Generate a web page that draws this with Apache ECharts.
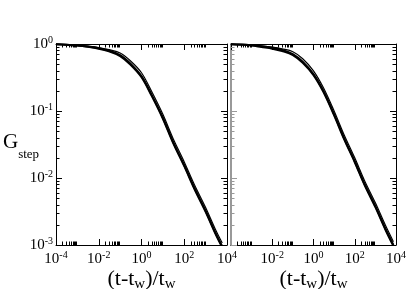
<!DOCTYPE html>
<html><head><meta charset="utf-8">
<script src="https://cdn.jsdelivr.net/npm/echarts@6/dist/echarts.min.js"></script>
<style>html,body{margin:0;padding:0;background:#fff}#c{width:415px;height:289px}</style>
</head><body><div id="c"></div>
<script>
// ---- data (x = (t-tw)/tw, G = G_step) ----
const xLeft  = [1e-4, 3e-4, 1e-3, 3e-3, 0.01, 0.03, 0.1, 0.3, 1, 3, 10, 30, 100, 300, 1000, 3000, 6000];
const gLeftA = [0.993, 0.977, 0.951, 0.916, 0.867, 0.798, 0.684, 0.513, 0.331, 0.174, 0.0794, 0.0347, 0.0155, 0.00708, 0.00324, 0.00148, 0.000955];
const gLeftB = [0.992, 0.975, 0.947, 0.908, 0.851, 0.776, 0.661, 0.495, 0.320, 0.168, 0.0767, 0.0335, 0.0150, 0.00684, 0.00313, 0.00143, 0.000922];
const gLeftC = [0.993, 0.977, 0.955, 0.927, 0.887, 0.822, 0.733, 0.562, 0.372, 0.195, 0.0891, 0.0389, 0.0174, 0.00794, 0.00363, 0.00166, 0.00107];

const xRight  = [1e-4, 3e-4, 1e-3, 3e-3, 0.01, 0.03, 0.1, 0.3, 1, 3, 10, 30, 100, 300, 1000, 3000, 7500];
const gRightA = [0.993, 0.982, 0.959, 0.929, 0.881, 0.817, 0.708, 0.543, 0.355, 0.200, 0.0891, 0.0398, 0.0178, 0.00813, 0.00380, 0.00178, 0.00100];
const gRightB = [0.990, 0.978, 0.952, 0.902, 0.851, 0.785, 0.684, 0.525, 0.343, 0.193, 0.0861, 0.0384, 0.0172, 0.00785, 0.00367, 0.00172, 0.000966];
const gRightC = [0.995, 0.984, 0.966, 0.942, 0.902, 0.847, 0.767, 0.603, 0.398, 0.224, 0.100, 0.0447, 0.0200, 0.00912, 0.00426, 0.00200, 0.00112];

// ---- ticks ----
const xTickValues = [1e-4, 1e-2, 1, 1e2, 1e4];
const xTickExps   = ['-4', '-2', '0', '2', '4'];
const yTickValues = [1e-3, 1e-2, 1e-1, 1];
const yTickExps   = ['-3', '-2', '-1', '0'];
const xMinorDecades = [1e-4, 1e-2, 1, 1e2];
const yMinorDecades = [1e-3, 1e-2, 1e-1];
const minorMultipliers = [2, 3, 4, 5, 6, 7, 8, 9];

const FONT = 'Liberation Serif';
const X_MIN = 1e-4, X_MAX = 1e4, Y_MIN = 1e-3, Y_MAX = 1;

function fmt(vals, exps) {
  return function (v) {
    const i = vals.findIndex(t => Math.abs(Math.log10(t) - Math.log10(v)) < 1e-6);
    return i < 0 ? '' : '{b|10}{s|' + exps[i] + '}';
  };
}
const richLab = {
  b: { fontFamily: FONT, fontSize: 15, color: '#000', lineHeight: 18 },
  s: { fontFamily: FONT, fontSize: 10, color: '#000', verticalAlign: 'top', lineHeight: 10 }
};
const titleRich = {
  a: { fontFamily: FONT, fontSize: 22, color: '#000', lineHeight: 26 },
  w: { fontFamily: FONT, fontSize: 15, color: '#000', verticalAlign: 'bottom', lineHeight: 15 }
};
const xTitle = '{a|(t-t}{w|w}{a|)/t}{w|w}';

const minorData = [];
xMinorDecades.forEach(d => minorMultipliers.forEach(m => minorData.push([d * m, 0.5, 0])));
yMinorDecades.forEach(d => minorMultipliers.forEach(m => minorData.push([1, d * m, 1])));

function seg(x1, y1, x2, y2, c) {
  return { type: 'line', shape: { x1, y1, x2, y2 }, style: { stroke: c, lineWidth: 1 } };
}
function minorRender(gridIdx) {
  return function (params, api) {
    const kind = api.value(2);
    const ch = [];
    if (kind === 0) {
      const v = api.value(0);
      const b = api.coord([v, Y_MIN]), t = api.coord([v, Y_MAX]);
      const x = Math.round(b[0]) + 0.5;
      ch.push(seg(x, b[1], x, b[1] - 3.5, '#000'), seg(x, t[1], x, t[1] + 3.5, '#000'));
    } else {
      const w = api.value(1);
      const l = api.coord([X_MIN, w]), r = api.coord([X_MAX, w]);
      const y = Math.round(l[1]) + 0.5;
      ch.push(seg(l[0], y, l[0] + 3.5, y, gridIdx === 1 ? '#999' : '#000'), seg(r[0], y, r[0] - 3.5, y, '#000'));
    }
    return { type: 'group', children: ch };
  };
}

function xAx(grid, pos, labels, hideMin) {
  return {
    type: 'log', logBase: 10, gridIndex: grid, position: pos, min: X_MIN, max: X_MAX, interval: 2,
    axisLine: { show: true, onZero: false, lineStyle: { color: '#000', width: 1 } },
    axisTick: { show: true, inside: true, length: 6, lineStyle: { color: '#000' } },
    minorTick: { show: false }, splitLine: { show: false },
    axisLabel: labels ? { show: true, margin: 5, formatter: fmt(xTickValues, xTickExps), rich: richLab, showMinLabel: !hideMin, showMaxLabel: true } : { show: false },
    name: labels ? xTitle : '', nameLocation: 'middle', nameGap: 21, nameMoveOverlap: false,
    nameTextStyle: { rich: titleRich }
  };
}
function yAx(grid, pos, labels, color, width) {
  return {
    type: 'log', logBase: 10, gridIndex: grid, position: pos, min: Y_MIN, max: Y_MAX, interval: 1,
    axisLine: { show: true, onZero: false, lineStyle: { color: color, width: width } },
    axisTick: { show: true, inside: true, length: 6, lineStyle: { color: color } },
    minorTick: { show: false }, splitLine: { show: false },
    axisLabel: labels ? { show: true, margin: 3, formatter: fmt(yTickValues, yTickExps), rich: richLab, showMinLabel: true, showMaxLabel: true } : { show: false }
  };
}
function lineSeries(xi, yi, xs, gs, w) {
  return {
    type: 'line', xAxisIndex: xi, yAxisIndex: yi, data: xs.map((x, i) => [x, gs[i]]),
    symbol: 'none', smooth: 0.35, clip: true, silent: true,
    lineStyle: { color: '#000', width: w }
  };
}

const chart = echarts.init(document.getElementById('c'), null, { renderer: 'canvas' });
chart.setOption({
  animation: false,
  backgroundColor: '#fff',
  grid: [
    { left: 56, top: 44, width: 171, height: 201, containLabel: false, outerBoundsMode: 'none' },
    { left: 231, top: 44, width: 165, height: 201, containLabel: false, outerBoundsMode: 'none' }
  ],
  xAxis: [xAx(0, 'bottom', true, false), xAx(0, 'top', false), xAx(1, 'bottom', true, true), xAx(1, 'top', false)],
  yAxis: [yAx(0, 'left', true, '#000', 1), yAx(0, 'right', false, '#000', 1), yAx(1, 'left', false, '#999', 2), yAx(1, 'right', false, '#000', 1)],
  graphic: [{
    type: 'text', left: 3, top: 132,
    style: { text: '{g|G}{s|step}', rich: {
      g: { fontFamily: FONT, fontSize: 21, color: '#000', lineHeight: 22 },
      s: { fontFamily: FONT, fontSize: 13, color: '#000', verticalAlign: 'bottom', lineHeight: 13, padding: [0, 0, -8, 0] }
    } }
  }],
  series: [
    lineSeries(0, 0, xLeft, gLeftA, 2),
    lineSeries(0, 0, xLeft, gLeftB, 2),
    lineSeries(0, 0, xLeft, gLeftC, 1.2),
    lineSeries(2, 2, xRight, gRightA, 2),
    lineSeries(2, 2, xRight, gRightB, 2),
    lineSeries(2, 2, xRight, gRightC, 1.2),
    { type: 'custom', xAxisIndex: 0, yAxisIndex: 0, data: minorData, renderItem: minorRender(0), clip: false, silent: true, encode: { x: 0, y: 1 } },
    { type: 'custom', xAxisIndex: 2, yAxisIndex: 2, data: minorData, renderItem: minorRender(1), clip: false, silent: true, encode: { x: 0, y: 1 } }
  ]
});
</script></body></html>
